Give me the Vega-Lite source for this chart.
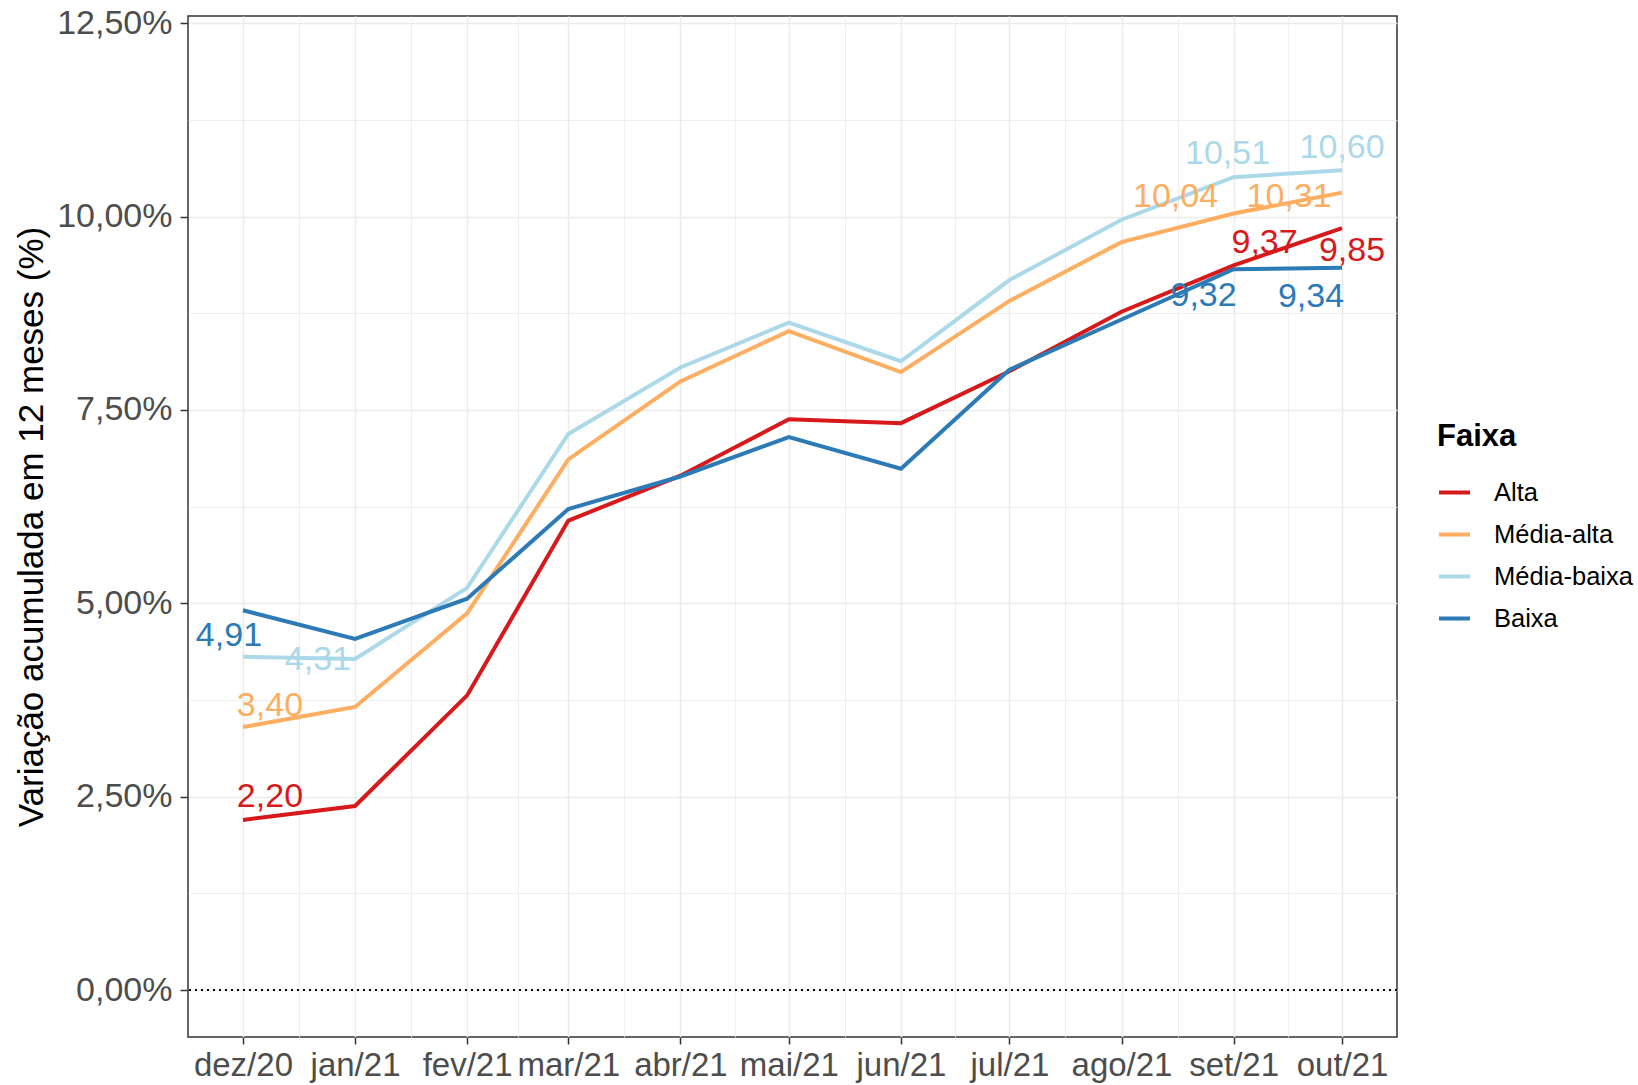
{
  "$schema": "https://vega.github.io/schema/vega-lite/v6.json",
  "width": 1209,
  "height": 1021,
  "autosize": {"type": "none"},
  "padding": {"left": 188, "top": 16, "right": 241, "bottom": 48},
  "config": {
    "font": "Liberation Sans",
    "locale": {"number": {"decimal": ",", "thousands": ".", "grouping": [3], "currency": ["R$", ""]}},
    "view": {"stroke": "#333333", "strokeWidth": 1.5},
    "background": "white"
  },
  "data": {
    "values": [
      {"data": "2020-12-01", "faixa": "Alta", "valor": 2.20},
      {"data": "2021-01-01", "faixa": "Alta", "valor": 2.38},
      {"data": "2021-02-01", "faixa": "Alta", "valor": 3.81},
      {"data": "2021-03-01", "faixa": "Alta", "valor": 6.07},
      {"data": "2021-04-01", "faixa": "Alta", "valor": 6.65},
      {"data": "2021-05-01", "faixa": "Alta", "valor": 7.38},
      {"data": "2021-06-01", "faixa": "Alta", "valor": 7.33},
      {"data": "2021-07-01", "faixa": "Alta", "valor": 8.00},
      {"data": "2021-08-01", "faixa": "Alta", "valor": 8.77},
      {"data": "2021-09-01", "faixa": "Alta", "valor": 9.37},
      {"data": "2021-10-01", "faixa": "Alta", "valor": 9.85},
      {"data": "2020-12-01", "faixa": "Média-alta", "valor": 3.40},
      {"data": "2021-01-01", "faixa": "Média-alta", "valor": 3.66},
      {"data": "2021-02-01", "faixa": "Média-alta", "valor": 4.87},
      {"data": "2021-03-01", "faixa": "Média-alta", "valor": 6.86},
      {"data": "2021-04-01", "faixa": "Média-alta", "valor": 7.87},
      {"data": "2021-05-01", "faixa": "Média-alta", "valor": 8.52},
      {"data": "2021-06-01", "faixa": "Média-alta", "valor": 7.99},
      {"data": "2021-07-01", "faixa": "Média-alta", "valor": 8.91},
      {"data": "2021-08-01", "faixa": "Média-alta", "valor": 9.67},
      {"data": "2021-09-01", "faixa": "Média-alta", "valor": 10.04},
      {"data": "2021-10-01", "faixa": "Média-alta", "valor": 10.31},
      {"data": "2020-12-01", "faixa": "Média-baixa", "valor": 4.31},
      {"data": "2021-01-01", "faixa": "Média-baixa", "valor": 4.28},
      {"data": "2021-02-01", "faixa": "Média-baixa", "valor": 5.20},
      {"data": "2021-03-01", "faixa": "Média-baixa", "valor": 7.19},
      {"data": "2021-04-01", "faixa": "Média-baixa", "valor": 8.05},
      {"data": "2021-05-01", "faixa": "Média-baixa", "valor": 8.63},
      {"data": "2021-06-01", "faixa": "Média-baixa", "valor": 8.13},
      {"data": "2021-07-01", "faixa": "Média-baixa", "valor": 9.18},
      {"data": "2021-08-01", "faixa": "Média-baixa", "valor": 9.96},
      {"data": "2021-09-01", "faixa": "Média-baixa", "valor": 10.51},
      {"data": "2021-10-01", "faixa": "Média-baixa", "valor": 10.60},
      {"data": "2020-12-01", "faixa": "Baixa", "valor": 4.91},
      {"data": "2021-01-01", "faixa": "Baixa", "valor": 4.54},
      {"data": "2021-02-01", "faixa": "Baixa", "valor": 5.06},
      {"data": "2021-03-01", "faixa": "Baixa", "valor": 6.22},
      {"data": "2021-04-01", "faixa": "Baixa", "valor": 6.64},
      {"data": "2021-05-01", "faixa": "Baixa", "valor": 7.15},
      {"data": "2021-06-01", "faixa": "Baixa", "valor": 6.74},
      {"data": "2021-07-01", "faixa": "Baixa", "valor": 8.02},
      {"data": "2021-08-01", "faixa": "Baixa", "valor": 8.67},
      {"data": "2021-09-01", "faixa": "Baixa", "valor": 9.32},
      {"data": "2021-10-01", "faixa": "Baixa", "valor": 9.34}
    ]
  },
  "resolve": {"axis": {"x": "independent", "y": "independent"}},
  "layer": [
    {
      "mark": {"type": "line", "strokeOpacity": 0},
      "encoding": {
        "x": {
          "field": "data", "type": "temporal",
          "scale": {"type": "utc", "nice": false, "domain": [{"year": 2020, "month": 11, "date": 15, "hours": 19, "minutes": 12, "utc": true}, {"year": 2021, "month": 10, "date": 16, "hours": 4, "minutes": 48, "utc": true}]},
          "axis": {
            "orient": "top", "title": null, "labels": false, "ticks": false, "domain": false,
            "grid": true, "gridColor": "#EBEBEB", "gridWidth": 0.8,
            "values": [
              {"year": 2020, "month": 12, "date": 16, "hours": 12, "utc": true},
              {"year": 2021, "month": 1, "date": 16, "hours": 12, "utc": true},
              {"year": 2021, "month": 2, "date": 15, "hours": 0, "utc": true},
              {"year": 2021, "month": 3, "date": 16, "hours": 12, "utc": true},
              {"year": 2021, "month": 4, "date": 16, "hours": 0, "utc": true},
              {"year": 2021, "month": 5, "date": 16, "hours": 12, "utc": true},
              {"year": 2021, "month": 6, "date": 16, "hours": 0, "utc": true},
              {"year": 2021, "month": 7, "date": 16, "hours": 12, "utc": true},
              {"year": 2021, "month": 8, "date": 16, "hours": 12, "utc": true},
              {"year": 2021, "month": 9, "date": 16, "hours": 0, "utc": true}
            ]
          }
        },
        "y": {
          "field": "valor", "type": "quantitative",
          "scale": {"domain": [-0.607, 12.594], "nice": false, "zero": false},
          "axis": {
            "orient": "right", "title": null, "labels": false, "ticks": false, "domain": false,
            "grid": true, "gridColor": "#EBEBEB", "gridWidth": 0.8,
            "values": [1.25, 3.75, 6.25, 8.75, 11.25]
          }
        },
        "detail": {"field": "faixa"}
      }
    },
    {
      "mark": {"type": "rule", "color": "black", "strokeDash": [2, 4], "strokeWidth": 1.4},
      "encoding": {
        "y": {"datum": 0, "type": "quantitative", "axis": null}
      }
    },
    {
      "encoding": {
        "x": {
          "field": "data", "type": "temporal",
          "scale": {"type": "utc", "nice": false, "domain": [{"year": 2020, "month": 11, "date": 15, "hours": 19, "minutes": 12, "utc": true}, {"year": 2021, "month": 10, "date": 16, "hours": 4, "minutes": 48, "utc": true}]},
          "axis": {
            "orient": "bottom", "title": null, "domain": false,
            "grid": true, "gridColor": "#EBEBEB", "gridWidth": 1.5,
            "ticks": true, "tickColor": "#333333", "tickWidth": 1.5, "tickSize": 7,
            "labelFontSize": 33, "labelColor": "#4D4D4D", "labelPadding": 5,
            "labelOverlap": false, "labelFlush": false, "labelBound": false,
            "labelExpr": "['jan','fev','mar','abr','mai','jun','jul','ago','set','out','nov','dez'][utcmonth(datum.value)] + '/' + utcFormat(datum.value, '%y')",
            "values": [
              {"year": 2020, "month": 12, "date": 1, "utc": true},
              {"year": 2021, "month": 1, "date": 1, "utc": true},
              {"year": 2021, "month": 2, "date": 1, "utc": true},
              {"year": 2021, "month": 3, "date": 1, "utc": true},
              {"year": 2021, "month": 4, "date": 1, "utc": true},
              {"year": 2021, "month": 5, "date": 1, "utc": true},
              {"year": 2021, "month": 6, "date": 1, "utc": true},
              {"year": 2021, "month": 7, "date": 1, "utc": true},
              {"year": 2021, "month": 8, "date": 1, "utc": true},
              {"year": 2021, "month": 9, "date": 1, "utc": true},
              {"year": 2021, "month": 10, "date": 1, "utc": true}
            ]
          }
        },
        "y": {
          "field": "valor", "type": "quantitative",
          "scale": {"domain": [-0.607, 12.594], "nice": false, "zero": false},
          "axis": {
            "orient": "left", "domain": false,
            "title": "Variação acumulada em 12 meses (%)",
            "titleFontSize": 35, "titleFontWeight": "normal", "titleColor": "black",
            "titleX": -157, "titleBaseline": "middle",
            "grid": true, "gridColor": "#EBEBEB", "gridWidth": 1.5,
            "ticks": true, "tickColor": "#333333", "tickWidth": 1.5, "tickSize": 8,
            "labelFontSize": 34, "labelColor": "#4D4D4D", "labelPadding": 8,
            "labelOverlap": false, "labelFlush": false, "labelBound": false,
            "format": ".2f", "labelExpr": "datum.label + '%'",
            "values": [0, 2.5, 5, 7.5, 10, 12.5]
          }
        },
        "color": {
          "field": "faixa", "type": "nominal",
          "scale": {"domain": ["Alta", "Média-alta", "Média-baixa", "Baixa"], "range": ["#D7191C", "#FDAE61", "#ABD9E9", "#2C7BB6"]},
          "legend": {
            "orient": "none", "legendX": 1249, "legendY": 406, "padding": 0,
            "title": "Faixa", "titleFontSize": 31, "titleFontWeight": "bold", "titleColor": "black", "titlePadding": 22,
            "labelFontSize": 25.5, "labelColor": "black", "labelOffset": 22,
            "symbolType": "stroke", "symbolSize": 961, "symbolStrokeWidth": 4, "rowPadding": 11
          }
        }
      },
      "layer": [
        {"mark": {"type": "line", "strokeWidth": 4}},
        {"transform": [{"filter": "datum.faixa == 'Alta' && datum.valor == 2.2"}], "mark": {"type": "text", "fontSize": 34, "dx": 27, "dy": -23}, "encoding": {"text": {"field": "valor", "type": "quantitative", "format": ".2f"}}},
        {"transform": [{"filter": "datum.faixa == 'Média-alta' && datum.valor == 3.4"}], "mark": {"type": "text", "fontSize": 34, "dx": 27, "dy": -21}, "encoding": {"text": {"field": "valor", "type": "quantitative", "format": ".2f"}}},
        {"transform": [{"filter": "datum.faixa == 'Baixa' && datum.valor == 4.91"}], "mark": {"type": "text", "fontSize": 34, "dx": -14, "dy": 26}, "encoding": {"text": {"field": "valor", "type": "quantitative", "format": ".2f"}}},
        {"transform": [{"filter": "datum.faixa == 'Média-baixa' && datum.valor == 4.31"}], "mark": {"type": "text", "fontSize": 34, "dx": 75, "dy": 3}, "encoding": {"text": {"field": "valor", "type": "quantitative", "format": ".2f"}}},
        {"transform": [{"filter": "datum.faixa == 'Média-baixa' && datum.valor == 10.51"}], "mark": {"type": "text", "fontSize": 34, "dx": -6, "dy": -23}, "encoding": {"text": {"field": "valor", "type": "quantitative", "format": ".2f"}}},
        {"transform": [{"filter": "datum.faixa == 'Média-baixa' && datum.valor == 10.6"}], "mark": {"type": "text", "fontSize": 34, "dx": 0, "dy": -22}, "encoding": {"text": {"field": "valor", "type": "quantitative", "format": ".2f"}}},
        {"transform": [{"filter": "datum.faixa == 'Média-alta' && datum.valor == 10.04"}], "mark": {"type": "text", "fontSize": 34, "dx": -58, "dy": -17}, "encoding": {"text": {"field": "valor", "type": "quantitative", "format": ".2f"}}},
        {"transform": [{"filter": "datum.faixa == 'Média-alta' && datum.valor == 10.31"}], "mark": {"type": "text", "fontSize": 34, "dx": -53, "dy": 4}, "encoding": {"text": {"field": "valor", "type": "quantitative", "format": ".2f"}}},
        {"transform": [{"filter": "datum.faixa == 'Alta' && datum.valor == 9.37"}], "mark": {"type": "text", "fontSize": 34, "dx": 31, "dy": -22}, "encoding": {"text": {"field": "valor", "type": "quantitative", "format": ".2f"}}},
        {"transform": [{"filter": "datum.faixa == 'Alta' && datum.valor == 9.85"}], "mark": {"type": "text", "fontSize": 34, "dx": 10, "dy": 23}, "encoding": {"text": {"field": "valor", "type": "quantitative", "format": ".2f"}}},
        {"transform": [{"filter": "datum.faixa == 'Baixa' && datum.valor == 9.32"}], "mark": {"type": "text", "fontSize": 34, "dx": -30, "dy": 27}, "encoding": {"text": {"field": "valor", "type": "quantitative", "format": ".2f"}}},
        {"transform": [{"filter": "datum.faixa == 'Baixa' && datum.valor == 9.34"}], "mark": {"type": "text", "fontSize": 34, "dx": -31, "dy": 29}, "encoding": {"text": {"field": "valor", "type": "quantitative", "format": ".2f"}}}
      ]
    }
  ]
}
